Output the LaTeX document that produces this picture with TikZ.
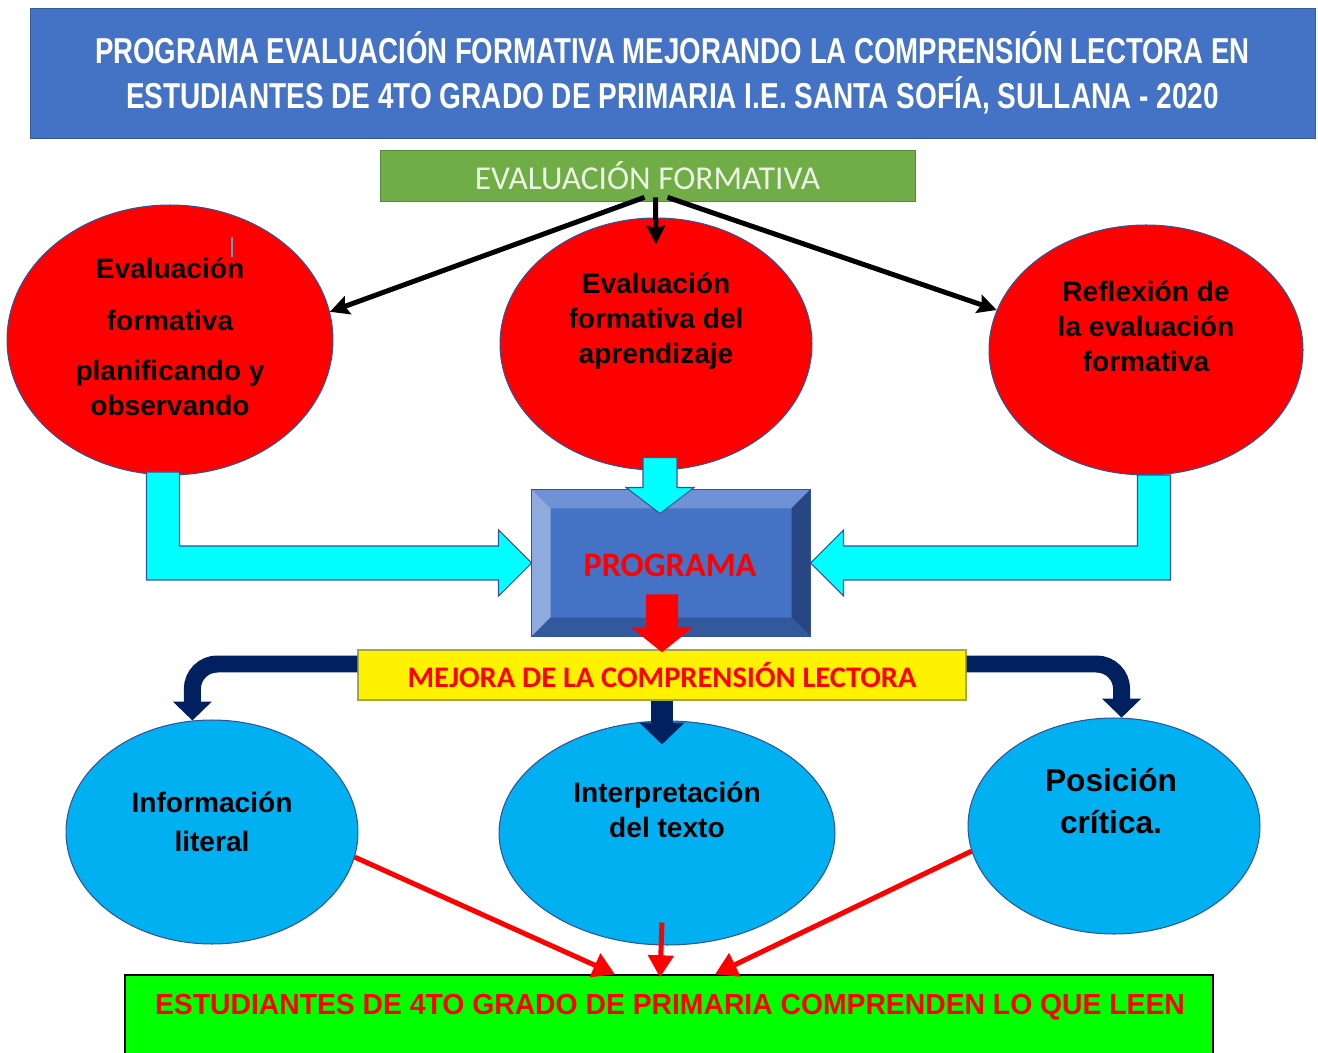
\documentclass[tikz,border=0pt]{standalone}
\usepackage{fontspec}
\setmainfont{Liberation Sans}
\newfontfamily\calibri{Carlito}
\usepackage{graphicx}
\usetikzlibrary{shapes.geometric,arrows.meta,calc}
\definecolor{titleblue}{RGB}{68,114,196}
\definecolor{efgreen}{RGB}{112,173,71}
\definecolor{eftext}{RGB}{236,242,228}
\definecolor{edgeblue}{RGB}{47,85,151}
\definecolor{ellblue}{RGB}{0,176,240}
\definecolor{navyblue}{RGB}{0,32,96}
\definecolor{mejedge}{RGB}{160,170,60}
\definecolor{brightcyan}{RGB}{0,255,255}
\definecolor{bevtop}{RGB}{111,145,213}
\definecolor{bevleft}{RGB}{143,170,220}
\definecolor{bevright}{RGB}{40,70,130}
\definecolor{bevbottom}{RGB}{52,88,158}

\begin{document}
\begin{tikzpicture}[x=0.02cm,y=-0.02cm,
	redcirc/.style={ellipse,fill=red,draw=edgeblue,line width=0.6pt,inner sep=0pt},
	bluecirc/.style={ellipse,fill=ellblue,draw=edgeblue,line width=0.6pt,inner sep=0pt},
	circtext/.style={align=center,font=\fontsize{16}{20}\selectfont\bfseries},
	blackarrow/.style={line width=0.1cm,-{Stealth[length=0.38cm,width=0.38cm,inset=0.06cm]}},
	redarrow/.style={red,line width=0.1cm,-{Triangle[length=0.44cm,width=0.5cm]}},
	navyarrow/.style={navyblue,line width=0.34cm,rounded corners=0.5cm,-{Triangle[length=0.38cm,width=0.76cm]}},
	cyanarrow/.style={fill=brightcyan,draw=edgeblue,line width=0.6pt,line join=miter}]
		\useasboundingbox (0,0) rectangle (1318,1053);
\node[fill=titleblue,draw=titleblue!80!black,minimum width=25.7cm,minimum height=2.6cm,inner sep=0pt,text=white,align=center,font=\fontsize{20.5}{25.5}\selectfont\bfseries] (title) at (672.5,73) {\resizebox{23.1cm}{\height}{PROGRAMA EVALUACIÓN FORMATIVA MEJORANDO LA COMPRENSIÓN LECTORA EN}\\\resizebox{21.86cm}{\height}{ESTUDIANTES DE 4TO GRADO DE PRIMARIA I.E. SANTA SOFÍA, SULLANA - 2020}}; % titulo
\node[fill=efgreen,draw=efgreen!80!black,minimum width=10.7cm,minimum height=1.02cm,inner sep=0pt,text=eftext,font=\calibri\fontsize{19}{22}\selectfont] (ef) at (647.5,175.5) {EVALUACIÓN FORMATIVA}; % evaluacion

\node[redcirc,minimum width=6.52cm,minimum height=5.4cm] (c1) at (170,340) {}; % planificando
\node[redcirc,minimum width=6.24cm,minimum height=5.04cm] (c2) at (656,344) {}; % aprendizaje
\node[redcirc,minimum width=6.28cm,minimum height=5cm] (c3) at (1146,350) {}; % reflexion
\node[circtext] (c1t) at (170,337) {Evaluación\\[9.5pt]formativa\\[8.3pt]planificando y\\observando};
\node[circtext] (c2t) at (656,321) {Evaluación\\formativa del\\aprendizaje};
\node[circtext] (c3t) at (1146,326) {Reflexión de\\la evaluación\\formativa};
\draw[cyan!60!gray,line width=0.04cm] (232,237) -- (232,257);

\node[fill=titleblue,draw=edgeblue,line width=0.6pt,minimum width=5.56cm,minimum height=2.92cm,inner sep=0pt] (prog) at (671,563) {}; % programa
\fill[bevtop] (prog.north west) -- (prog.north east) -- ($(prog.north east)+(-19,19)$) -- ($(prog.north west)+(19,19)$) -- cycle;
\fill[bevleft] (prog.north west) -- ($(prog.north west)+(19,19)$) -- ($(prog.south west)+(19,-19)$) -- (prog.south west) -- cycle;
\fill[bevright] (prog.north east) -- ($(prog.north east)+(-19,19)$) -- ($(prog.south east)+(-19,-19)$) -- (prog.south east) -- cycle;
\fill[bevbottom] (prog.south west) -- ($(prog.south west)+(19,-19)$) -- ($(prog.south east)+(-19,-19)$) -- (prog.south east) -- cycle;
\draw[edgeblue,line width=0.6pt] (prog.north west) rectangle (prog.south east);
\node[text=red,font=\calibri\fontsize{19.5}{22}\selectfont\bfseries] (progt) at (670,565) {PROGRAMA};

\node[fill=yellow,draw=mejedge,line width=0.8pt,minimum width=12.16cm,minimum height=1cm,inner sep=0pt,text=red,font=\calibri\fontsize{17}{20}\selectfont\bfseries] (mej) at (662,675) {\resizebox{10.18cm}{\height}{MEJORA DE LA COMPRENSIÓN LECTORA}}; % mejora

\node[bluecirc,minimum width=5.84cm,minimum height=4.48cm] (inf) at (212,832) {}; % literal
\node[bluecirc,minimum width=6.72cm,minimum height=4.48cm] (int) at (667,833) {}; % inferencial
\node[bluecirc,minimum width=5.84cm,minimum height=4.32cm] (pos) at (1114,826) {}; % critica
\node[circtext] (inft) at (212,822) {Información\\[2.2pt]literal};
\node[circtext] (intt) at (667,810) {Interpretación\\del texto};
\node[circtext,font=\fontsize{18}{24}\selectfont\bfseries] (post) at (1111,801) {Posición\\crítica.};

\node[fill=green,draw=black,line width=0.8pt,minimum width=21.76cm,minimum height=2cm,inner sep=0pt] (stud) at (669,1025) {}; % estudiantes
\node[text=red,font=\fontsize{16.5}{18}\selectfont\bfseries] (studt) at (670,1007) {\resizebox{20.6cm}{\height}{ESTUDIANTES DE 4TO GRADO DE PRIMARIA COMPRENDEN LO QUE LEEN}};

\draw[blackarrow] ($(ef.south)+(-3,-4)$) -- (c1.10);
\draw[blackarrow] ($(ef.south)+(8,-4)$) -- ($(c2.north)+(0,27)$);
\draw[blackarrow] ($(ef.south)+(20,-4)$) -- (c3.165);

\draw[cyanarrow,shift={(prog.west)}] (0,0) -- (-33,-33) -- (-33,-17) -- (-352,-17) -- (-352,-91) -- (-385,-91) -- (-385,17) -- (-33,17) -- (-33,33) -- cycle;
\draw[cyanarrow,shift={(prog.east)}] (0,0) -- (33,-33) -- (33,-17) -- (327,-17) -- (327,-88) -- (360,-88) -- (360,17) -- (33,17) -- (33,33) -- cycle;
\draw[cyanarrow,shift={($(c2.south)+(4,0)$)}] (0,43) -- (34,17) -- (17,17) -- (17,-13) -- (-17,-13) -- (-17,17) -- (-34,17) -- cycle;
\fill[red,shift={(mej.north)}] (0,3) -- (31,-22) -- (16,-22) -- (16,-55) -- (-16,-55) -- (-16,-22) -- (-31,-22) -- cycle;

\draw[navyarrow] ($(mej.west)+(0,-11)$) -| (inf.100);
\draw[navyarrow] ($(mej.east)+(0,-11)$) -| (pos.86);
\draw[navyarrow,line width=0.44cm,-{Triangle[length=0.44cm,width=0.88cm]}] (mej.south) -- ($(mej.south |- int.north)+(0,24)$);

\draw[redarrow] (inf.-10) -- ($(stud.north)+(-54,0)$);
\draw[redarrow] ($(int.south)+(-5,-23)$) -- ($(stud.north)+(-9,3)$);
\draw[redarrow] (pos.190) -- ($(stud.north)+(46,0)$);

		\end{tikzpicture}
\end{document}
